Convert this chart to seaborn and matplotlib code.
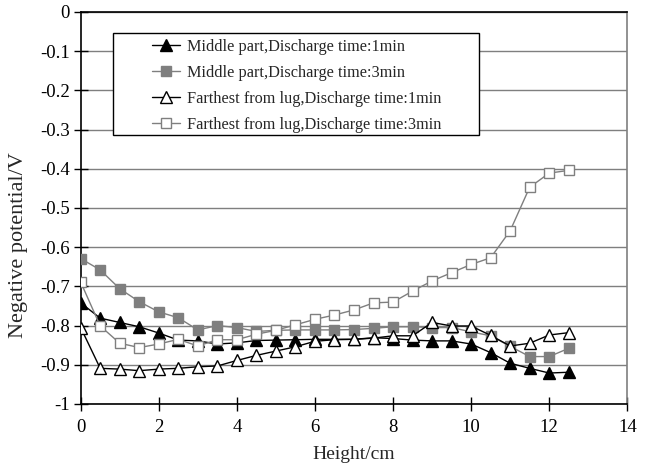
import numpy as np
import pandas as pd
import matplotlib
matplotlib.use("Agg")
import matplotlib.pyplot as plt
from matplotlib.patches import Rectangle
import seaborn as sns

height = [0, 0.5, 1, 1.5, 2, 2.5, 3, 3.5, 4, 4.5, 5, 5.5, 6, 6.5,
          7, 7.5, 8, 8.5, 9, 9.5, 10, 10.5, 11, 11.5, 12, 12.5]

middle_1min = [-0.742, -0.781, -0.792, -0.803, -0.819, -0.837, -0.839, -0.847, -0.844, -0.838,
               -0.837, -0.836, -0.835, -0.835, -0.835, -0.831, -0.833, -0.837, -0.839, -0.839,
               -0.847, -0.869, -0.896, -0.909, -0.921, -0.919]
middle_3min = [-0.629, -0.658, -0.706, -0.739, -0.765, -0.780, -0.811, -0.800, -0.805, -0.815,
               -0.812, -0.811, -0.811, -0.811, -0.810, -0.807, -0.803, -0.803, -0.805, -0.805,
               -0.816, -0.826, -0.853, -0.879, -0.879, -0.858]
far_1min = [-0.805, -0.909, -0.911, -0.915, -0.911, -0.909, -0.905, -0.903, -0.889, -0.876,
            -0.865, -0.854, -0.840, -0.836, -0.835, -0.832, -0.826, -0.826, -0.792, -0.801,
            -0.801, -0.825, -0.852, -0.845, -0.824, -0.818]
far_3min = [-0.689, -0.801, -0.845, -0.856, -0.847, -0.835, -0.852, -0.836, -0.836, -0.822,
            -0.812, -0.798, -0.784, -0.773, -0.760, -0.742, -0.740, -0.712, -0.686, -0.665,
            -0.644, -0.627, -0.558, -0.447, -0.411, -0.404]

labels = ["Middle part,Discharge time:1min",
          "Middle part,Discharge time:3min",
          "Farthest from lug,Discharge time:1min",
          "Farthest from lug,Discharge time:3min"]

x_ticks = [0, 2, 4, 6, 8, 10, 12, 14]
y_ticks = [-1, -0.9, -0.8, -0.7, -0.6, -0.5, -0.4, -0.3, -0.2, -0.1, 0]
y_tick_labels = ["-1", "-0.9", "-0.8", "-0.7", "-0.6", "-0.5", "-0.4", "-0.3", "-0.2", "-0.1", "0"]

sns.set_style("ticks")
plt.rcParams["font.family"] = ["Liberation Serif", "DejaVu Serif"]

fig = plt.figure(figsize=(6.48, 4.70), dpi=100)
ax = fig.add_axes([80.7 / 648, 1 - 404 / 470, (627.3 - 80.7) / 648, (404 - 12) / 470])

GRAY = "#7f7f7f"
styles = [
    dict(color="black", marker="^", markerfacecolor="black", markeredgecolor="black", markersize=8.5),
    dict(color=GRAY, marker="s", markerfacecolor=GRAY, markeredgecolor=GRAY, markersize=7.5),
    dict(color="black", marker="^", markerfacecolor="white", markeredgecolor="black", markersize=8.5),
    dict(color=GRAY, marker="s", markerfacecolor="white", markeredgecolor=GRAY, markersize=7.5),
]
series = [middle_1min, middle_3min, far_1min, far_3min]

for yvals, lab, st in zip(series, labels, styles):
    df = pd.DataFrame({"x": height, "y": yvals})
    sns.lineplot(data=df, x="x", y="y", ax=ax, label=lab, linewidth=1.0,
                 markeredgewidth=1.0, zorder=3, **st)

ax.set_xlim(0, 14)
ax.set_ylim(-1, 0)
ax.set_xticks(x_ticks)
ax.set_xticklabels([str(v) for v in x_ticks])
ax.set_yticks(y_ticks)
ax.set_yticklabels(y_tick_labels)
ax.yaxis.grid(True, color=GRAY, linewidth=1.0)
ax.xaxis.grid(False)
ax.set_axisbelow(True)

ax.tick_params(axis="both", direction="inout", length=10, width=1, labelsize=13.5, colors="black")
ax.tick_params(axis="x", pad=6)
ax.tick_params(axis="y", pad=3)

for s in ["left", "bottom", "top"]:
    ax.spines[s].set_color("black")
    ax.spines[s].set_linewidth(1.2)
ax.spines["right"].set_color(GRAY)
ax.spines["right"].set_linewidth(1.2)

ax.set_xlabel("Height/cm", fontsize=14)
ax.xaxis.set_label_coords(0.5, -0.130)
ax.xaxis.label.set_va("center")
ax.set_ylabel("Negative potential/V", fontsize=16)
ax.yaxis.set_label_coords(-0.113, 0.405)
ax.yaxis.label.set_va("center")

# legend frame
ax.add_patch(Rectangle((0.0591, 0.686), 0.7287 - 0.0591, 0.946 - 0.686, transform=ax.transAxes,
                       facecolor="white", edgecolor="black", linewidth=1.0, zorder=4))
leg = ax.legend(loc="upper left", bbox_to_anchor=(0.1304, 0.932), frameon=False,
                fontsize=11.7, borderpad=0, labelspacing=0.62, handlelength=1.72,
                handletextpad=0.45, borderaxespad=0)
leg.set_zorder(5)

fig.savefig("out.png", dpi=100)
